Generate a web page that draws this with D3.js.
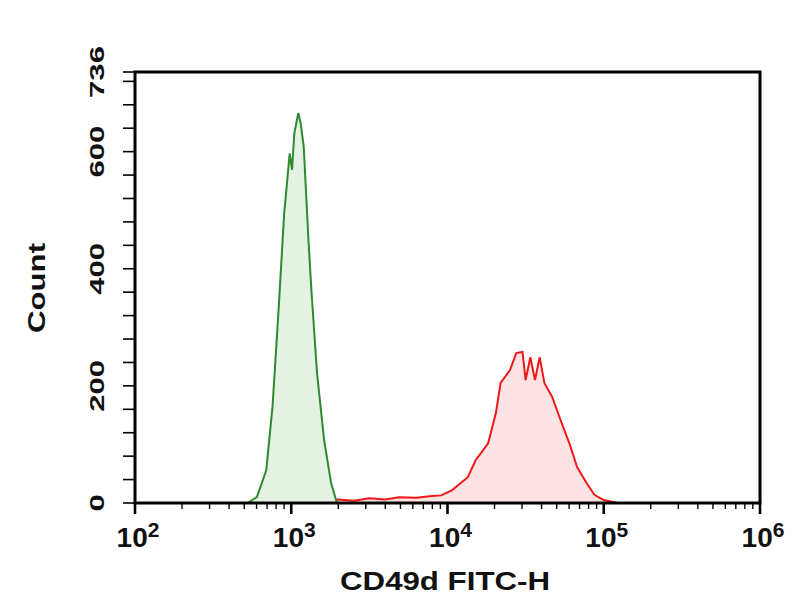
<!DOCTYPE html>
<html><head><meta charset="utf-8">
<script src="https://cdnjs.cloudflare.com/ajax/libs/d3/7.8.5/d3.min.js"></script>
<style>body{margin:0;background:#fff}</style>
</head><body>
<svg id="c" width="804" height="600"></svg>
<script>
// log10 of FITC-H, counts
const greenLog = [2.72,2.78,2.84,2.88,2.92,2.955,2.99,3.005,3.02,3.045,3.06,3.08,3.11,3.13,3.165,3.21,3.255,3.29];
const greenCnt = [0,10,56,164,335,495,597,569,632,666,649,608,449,359,222,108,34,2];
const redLog = [3.1,3.2,3.3,3.4,3.5,3.6,3.69,3.8,3.9,3.96,4.03,4.13,4.18,4.26,4.31,4.34,4.40,4.44,4.48,4.50,4.53,4.56,4.59,4.62,4.67,4.73,4.78,4.83,4.89,4.94,5.0,5.09];
const redCnt = [0,3,6,4,8,6,10,9,12,13,22,44,73,102,154,205,227,256,258,210,249,210,249,205,181,137,102,61,34,14,5,0];
const yTicks = [0,200,400,600,736];
const xDecades = [2,3,4,5,6];

const svg = d3.select('#c');
const L = 135, R = 760, T = 72, B = 503;
const x = d3.scaleLinear().domain([2,6]).range([L,R]);
const y = d3.scaleLinear().domain([0,736]).range([B,T]);
const FONT = 'Liberation Sans, Arial, sans-serif';

function hist(lx, cnt, stroke, fill) {
  const pts = lx.map((v,i) => [v, cnt[i]]);
  svg.append('path').datum(pts)
    .attr('d', d3.area().x(d => x(d[0])).y0(B).y1(d => y(d[1])))
    .attr('fill', fill);
  svg.append('path').datum(pts)
    .attr('d', d3.line().x(d => x(d[0])).y(d => y(d[1])))
    .attr('fill', 'none').attr('stroke', stroke).attr('stroke-width', 2);
}
hist(redLog, redCnt, '#f01818', '#fde3e3');
hist(greenLog, greenCnt, '#2f8a2f', '#e4f2e4');

// cadre
svg.append('rect').attr('x', L).attr('y', T).attr('width', R - L).attr('height', B - T)
  .attr('fill', 'none').attr('stroke', '#000').attr('stroke-width', 3);

// ticks y
const yMinor = d3.range(0, 736, 40).concat([736]);
svg.append('g').selectAll('line').data(yMinor).enter().append('line')
  .attr('x1', L - 12).attr('x2', L).attr('y1', d => y(d)).attr('y2', d => y(d))
  .attr('stroke', '#000').attr('stroke-width', 1.6);
svg.append('g').selectAll('text').data(yTicks).enter().append('text')
  .attr('transform', d => `translate(104,${y(d)}) rotate(-90) scale(1.35,0.9)`)
  .attr('text-anchor', 'middle')
  .attr('font-family', FONT).attr('font-weight', 'bold')
  .attr('font-size', 23).attr('fill', '#111').text(d => d);
svg.append('text').attr('transform', 'translate(45,288) rotate(-90) scale(1.2,0.95)')
  .attr('text-anchor', 'middle')
  .attr('font-family', FONT).attr('font-weight', 'bold')
  .attr('font-size', 26).attr('fill', '#111').text('Count');

// ticks x (log)
const xMinor = [];
xDecades.slice(0, -1).forEach(d => { for (let k = 2; k <= 9; k++) xMinor.push(d + Math.log10(k)); });
svg.append('g').selectAll('line').data(xMinor).enter().append('line')
  .attr('x1', d => x(d)).attr('x2', d => x(d)).attr('y1', B).attr('y2', B + 6)
  .attr('stroke', '#000').attr('stroke-width', 1.4);
svg.append('g').selectAll('line').data(xDecades).enter().append('line')
  .attr('x1', d => x(d)).attr('x2', d => x(d)).attr('y1', B).attr('y2', B + 11)
  .attr('stroke', '#000').attr('stroke-width', 2.6);
const xl = svg.append('g').selectAll('text').data(xDecades).enter().append('text')
  .attr('x', d => x(d) + 3).attr('y', 547).attr('text-anchor', 'middle')
  .attr('font-family', FONT).attr('font-weight', 'bold')
  .attr('font-size', 28).attr('fill', '#111');
xl.append('tspan').text('10');
xl.append('tspan').attr('dy', -10).attr('font-size', 21).text(d => d);

svg.append('text').attr('transform', 'translate(445,590) scale(1.25,1)').attr('text-anchor', 'middle')
  .attr('font-family', FONT).attr('font-weight', 'bold')
  .attr('font-size', 25).attr('fill', '#111').text('CD49d FITC-H');
</script>
</body></html>
